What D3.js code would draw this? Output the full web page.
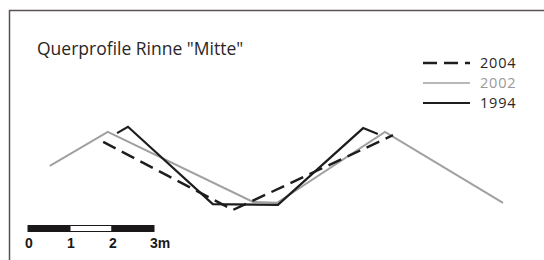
<!DOCTYPE html>
<html>
<head>
<meta charset="utf-8">
<script src="https://cdn.jsdelivr.net/npm/d3@7"></script>
<style>
  body { margin: 0; background: #fff; }
  svg { display: block; }
</style>
</head>
<body>
<svg id="chart"></svg>
<script>
// profile points: distance along section (m), relative height (m)
var profile2004 = [[1.79, 1.74], [4.88, 0.12], [8.69, 1.90]];
var profile2002 = [[0.52, 1.17], [1.90, 1.98], [5.36, 0.31], [5.93, 0.29], [8.50, 1.98], [11.31, 0.29]];
var profile1994 = [[2.12, 1.95], [2.38, 2.10], [4.40, 0.26], [5.95, 0.24], [7.98, 2.07], [8.33, 1.93]];

var legendYears = ["2004", "2002", "1994"];
var scaleTicks = [0, 1, 2, 3];
var scaleLabels = ["0", "1", "2", "3m"];
var title = 'Querprofile Rinne "Mitte"';

var svgWidth = 544, svgHeight = 260;

var svg = d3.select("#chart")
  .attr("width", svgWidth)
  .attr("height", svgHeight);

// 42 px per metre
var x = d3.scaleLinear().domain([0, 12]).range([28, 532]);
var y = d3.scaleLinear().domain([0, 2]).range([215, 131]);

// frame
svg.append("path")
  .attr("d", "M9.5," + svgHeight + "V10.5H" + svgWidth)
  .attr("fill", "none")
  .attr("stroke", "#5a5250")
  .attr("stroke-width", 1.5);

svg.append("text")
  .attr("x", 37)
  .attr("y", 55)
  .attr("font-family", "Open Sans, sans-serif")
  .attr("font-size", 17.5)
  .attr("fill", "#2a2626")
  .text(title);

var line = d3.line()
  .x(function (d) { return x(d[0]) })
  .y(function (d) { return y(d[1]) });

var styles = {
  "2004": { stroke: "#1e1c1c", width: 2.4, dash: "14,7" },
  "2002": { stroke: "#a0a0a0", width: 2, dash: null },
  "1994": { stroke: "#1e1c1c", width: 2.2, dash: null }
};

var series = [
  { year: "2002", data: profile2002 },
  { year: "1994", data: profile1994 },
  { year: "2004", data: profile2004 }
];

series.forEach(function (s) {
  var st = styles[s.year];
  svg.append("path")
    .datum(s.data)
    .attr("fill", "none")
    .attr("stroke", st.stroke)
    .attr("stroke-width", st.width)
    .attr("stroke-dasharray", st.dash)
    .attr("stroke-linejoin", "miter")
    .attr("d", line);
});

// legend
var lg = svg.append("g");
legendYears.forEach(function (yr, i) {
  var st = styles[yr];
  var ly = 63 + i * 20;
  lg.append("line")
    .attr("x1", 423).attr("x2", 470)
    .attr("y1", ly).attr("y2", ly)
    .attr("stroke", st.stroke)
    .attr("stroke-width", yr == "2002" ? 1.6 : st.width)
    .attr("stroke-dasharray", st.dash);
  lg.append("text")
    .attr("x", 480)
    .attr("y", ly + 5)
    .attr("font-family", "Open Sans, sans-serif")
    .attr("font-size", 14.5)
    .attr("letter-spacing", 0.8)
    .attr("fill", yr == "2002" ? "#9a9a9a" : "#2a2626")
    .text(yr);
});

// scale bar
var sb = d3.scaleLinear().domain([0, 3]).range([28, 154]);
var bar = svg.append("g");
scaleTicks.slice(0, 3).forEach(function (t) {
  bar.append("rect")
    .attr("x", sb(t))
    .attr("y", 225.5)
    .attr("width", sb(t + 1) - sb(t))
    .attr("height", 6)
    .attr("fill", t == 1 ? "#fff" : "#1a1818")
    .attr("stroke", "#1a1818")
    .attr("stroke-width", 1);
});
scaleTicks.forEach(function (t, i) {
  bar.append("text")
    .attr("x", i == 3 ? sb(t) - 4 : sb(t) + 1)
    .attr("y", 248)
    .attr("text-anchor", i == 3 ? "start" : "middle")
    .attr("font-family", "Liberation Sans, Arial, sans-serif")
    .attr("font-weight", "bold")
    .attr("font-size", 14)
    .attr("fill", "#1a1818")
    .text(scaleLabels[i]);
});
</script>
</body>
</html>
